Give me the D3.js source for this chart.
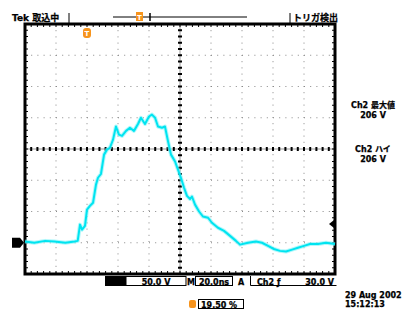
<!DOCTYPE html>
<html>
<head>
<meta charset="utf-8">
<script src="https://cdn.jsdelivr.net/npm/d3@7"></script>
<style>
body { margin: 0; background: #fff; }
svg text { font-family: "DejaVu Sans", "Noto Sans CJK JP", sans-serif; font-weight: bold; fill: #000; stroke: #000; stroke-width: 0.25px; }
</style>
</head>
<body>
<div id="scope"></div>
<script>
// time (ns) and Ch2 voltage (V)
var timeNs = [0, 6, 13, 19, 26, 32, 34, 35.5, 36.8, 38.7, 40, 41.9, 43.9, 45.8, 47.1, 49, 51, 52.9, 54.8, 56.8, 58.7, 60.6, 62.6, 65.2, 67.7, 70.3, 72.9, 74.8, 77.4, 80, 81.9, 83.9, 85.8, 88.4, 90.3, 92.3, 94.2, 96.8, 98.7, 100.6, 102.6, 104.5, 106.5, 107.7, 109.7, 112.3, 114.8, 118.1, 120.6, 124.5, 128.4, 132.3, 136.1, 138.7, 143.9, 149, 152.9, 156.8, 160.6, 164.5, 168.4, 172.3, 176.1, 180, 183.9, 189, 194.2, 200];
var ch2Volts = [2, 0, 3, 2, 0, 2, 3, 29, 21, 27, 53, 59, 64, 93, 104, 110, 141, 149, 152, 165, 186, 173, 171, 179, 184, 179, 190, 200, 190, 202, 205, 200, 186, 184, 186, 162, 141, 130, 117, 104, 88, 75, 70, 74, 61, 50, 42, 40, 32, 24, 19, 11, 3, -3, 0, 2, 0, -5, -10, -13, -14, -11, -8, -5, -2, -2, 0, -2];

var xTicks = [0, 20, 40, 60, 80, 100, 120, 140, 160, 180, 200];
var yTicks = [-50, 0, 50, 100, 150, 200, 250, 300, 350];

var readouts = ["Ch2 最大値", "206 V", "Ch2 ハイ", "206 V"];
var dateLines = ["29 Aug 2002", "15:12:13"];

var W = 405, H = 310;
var plot = { left: 25, right: 335, top: 24, bottom: 274 };

var x = d3.scaleLinear().domain([0, 200]).range([plot.left, plot.right]);
var y = d3.scaleLinear().domain([-50, 350]).range([plot.bottom, plot.top]);

var svg = d3.select("#scope").append("svg")
  .attr("width", W)
  .attr("height", H);

// dotted grid
svg.selectAll(".vgrid")
  .data(xTicks.slice(1, -1))
  .enter().append("line")
  .attr("x1", function (d) { return x(d); })
  .attr("x2", function (d) { return x(d); })
  .attr("y1", plot.top)
  .attr("y2", plot.bottom)
  .attr("stroke", "#888")
  .attr("stroke-width", 1)
  .attr("stroke-dasharray", "1,5.2");
svg.selectAll(".hgrid")
  .data(yTicks.slice(1, -1))
  .enter().append("line")
  .attr("y1", function (d) { return y(d); })
  .attr("y2", function (d) { return y(d); })
  .attr("x1", plot.left)
  .attr("x2", plot.right)
  .attr("stroke", "#888")
  .attr("stroke-width", 1)
  .attr("stroke-dasharray", "1,5.2");

// center cross
svg.append("line").attr("x1", x(100)).attr("x2", x(100)).attr("y1", plot.top).attr("y2", plot.bottom)
  .attr("stroke", "#999").attr("stroke-width", 1);
svg.append("line").attr("y1", y(150)).attr("y2", y(150)).attr("x1", plot.left).attr("x2", plot.right)
  .attr("stroke", "#999").attr("stroke-width", 1);

var minorT = d3.range(0, 201, 4);
var minorV = d3.range(-50, 351, 10);
svg.selectAll(".ctx")
  .data(minorT)
  .enter().append("line")
  .attr("x1", function (d) { return x(d); })
  .attr("x2", function (d) { return x(d); })
  .attr("y1", y(150) - 2)
  .attr("y2", y(150) + 2)
  .attr("stroke", "#000").attr("stroke-width", 2);
svg.selectAll(".cty")
  .data(minorV)
  .enter().append("line")
  .attr("y1", function (d) { return y(d); })
  .attr("y2", function (d) { return y(d); })
  .attr("x1", x(100) - 2)
  .attr("x2", x(100) + 2)
  .attr("stroke", "#000").attr("stroke-width", 2);

// edge ticks
svg.selectAll(".etop")
  .data(minorT)
  .enter().append("line")
  .attr("x1", function (d) { return x(d); })
  .attr("x2", function (d) { return x(d); })
  .attr("y1", plot.top)
  .attr("y2", plot.top + 3)
  .attr("stroke", "#000").attr("stroke-width", 1);
svg.selectAll(".ebot")
  .data(minorT)
  .enter().append("line")
  .attr("x1", function (d) { return x(d); })
  .attr("x2", function (d) { return x(d); })
  .attr("y1", plot.bottom - 3)
  .attr("y2", plot.bottom)
  .attr("stroke", "#000").attr("stroke-width", 1);
svg.selectAll(".eleft")
  .data(minorV)
  .enter().append("line")
  .attr("y1", function (d) { return y(d); })
  .attr("y2", function (d) { return y(d); })
  .attr("x1", plot.left)
  .attr("x2", plot.left + 3)
  .attr("stroke", "#000").attr("stroke-width", 1);
svg.selectAll(".eright")
  .data(minorV)
  .enter().append("line")
  .attr("y1", function (d) { return y(d); })
  .attr("y2", function (d) { return y(d); })
  .attr("x1", plot.right - 3)
  .attr("x2", plot.right)
  .attr("stroke", "#000").attr("stroke-width", 1);

// frame
svg.append("rect")
  .attr("x", plot.left)
  .attr("y", plot.top)
  .attr("width", plot.right - plot.left)
  .attr("height", plot.bottom - plot.top)
  .attr("fill", "none")
  .attr("stroke", "#000")
  .attr("stroke-width", 3);

// trace
var pts = timeNs.map(function (t, i) { return [t, ch2Volts[i]]; });
var line = d3.line()
  .x(function (d) { return x(d[0]); })
  .y(function (d) { return y(d[1]); });
svg.append("path").attr("d", line(pts))
  .attr("fill", "none").attr("stroke", "#7ff4f8").attr("stroke-width", 4).attr("stroke-opacity", 0.6)
  .attr("stroke-linejoin", "round");
svg.append("path").attr("d", line(pts))
  .attr("fill", "none").attr("stroke", "#00e4f0").attr("stroke-width", 2)
  .attr("stroke-linejoin", "round");

// ground marker (left) and trigger level (right)
svg.append("path")
  .attr("d", "M12," + (y(0) - 5) + "h8l4,5l-4,5h-8z")
  .attr("fill", "#000");
svg.append("path")
  .attr("d", "M" + (plot.right - 1) + "," + (y(30) - 4) + "l-5,4l5,4z")
  .attr("fill", "#000");

// trigger position marker
svg.append("rect").attr("x", x(40) - 4).attr("y", 28).attr("width", 8).attr("height", 10).attr("rx", 3)
  .attr("fill", "#f7941d");
svg.append("text").attr("x", x(40)).attr("y", 36).attr("text-anchor", "middle")
  .style("font-size", "7px").style("fill", "#fff").style("stroke", "none").text("T");

// header
svg.append("text").attr("x", 12).attr("y", 21).style("font-size", "9px").text("Tek 取込中");
svg.append("line").attr("x1", 69).attr("x2", 69).attr("y1", 13).attr("y2", 23).attr("stroke", "#000").attr("stroke-width", 1);
svg.append("line").attr("x1", 113).attr("x2", 247).attr("y1", 17).attr("y2", 17).attr("stroke", "#000").attr("stroke-width", 1);
svg.append("path").attr("d", "M150,13v8").attr("stroke", "#000").attr("stroke-width", 1.5);
svg.append("rect").attr("x", 136).attr("y", 12).attr("width", 7).attr("height", 9).attr("fill", "#f7941d");
svg.append("text").attr("x", 139.5).attr("y", 20).attr("text-anchor", "middle")
  .style("font-size", "7px").style("fill", "#fff").style("stroke", "none").text("T");
svg.append("line").attr("x1", 290).attr("x2", 290).attr("y1", 13).attr("y2", 23).attr("stroke", "#000").attr("stroke-width", 1);
svg.append("text").attr("x", 293).attr("y", 21).style("font-size", "9px").text("トリガ検出");

// right readouts
svg.selectAll(".readout")
  .data(readouts)
  .enter().append("text")
  .attr("x", 373)
  .attr("y", function (d, i) { return [108, 118, 152, 162][i]; })
  .attr("text-anchor", "middle")
  .style("font-size", "8px")
  .text(function (d) { return d; });

// bottom status bar
svg.append("rect").attr("x", 105).attr("y", 276).attr("width", 21).attr("height", 10).attr("fill", "#000");
svg.append("rect").attr("x", 126).attr("y", 276.5).attr("width", 60).attr("height", 9).attr("fill", "#fff")
  .attr("stroke", "#000").attr("stroke-width", 1);
svg.append("text").attr("x", 156).attr("y", 284.5).attr("text-anchor", "middle").style("font-size", "8px").text("50.0 V");
svg.append("text").attr("x", 187).attr("y", 284.5).style("font-size", "8px").text("M");
svg.append("rect").attr("x", 195.5).attr("y", 276.5).attr("width", 37).attr("height", 9).attr("fill", "#fff")
  .attr("stroke", "#000").attr("stroke-width", 1);
svg.append("text").attr("x", 214).attr("y", 284.5).attr("text-anchor", "middle").style("font-size", "8px").text("20.0ns");
svg.append("text").attr("x", 238).attr("y", 284.5).style("font-size", "8px").text("A");
svg.append("path").attr("d", "M250.5,276v9.5h86").attr("fill", "none").attr("stroke", "#000").attr("stroke-width", 1);
svg.append("text").attr("x", 257).attr("y", 284.5).style("font-size", "8px").text("Ch2");
svg.append("text").attr("x", 277).attr("y", 284.5).style("font-size", "8px").text("ƒ");
svg.append("text").attr("x", 334).attr("y", 284.5).attr("text-anchor", "end").style("font-size", "8px").text("30.0 V");

svg.append("rect").attr("x", 189).attr("y", 300).attr("width", 7).attr("height", 8).attr("rx", 2).attr("fill", "#f7941d");
svg.append("rect").attr("x", 198.5).attr("y", 299.5).attr("width", 45).attr("height", 9).attr("fill", "#fff")
  .attr("stroke", "#000").attr("stroke-width", 1);
svg.append("text").attr("x", 201).attr("y", 307.5).style("font-size", "8px").text("19.50 %");

svg.selectAll(".date")
  .data(dateLines)
  .enter().append("text")
  .attr("x", 345)
  .attr("y", function (d, i) { return 298 + i * 9; })
  .style("font-size", "8px")
  .text(function (d) { return d; });
</script>
</body>
</html>
